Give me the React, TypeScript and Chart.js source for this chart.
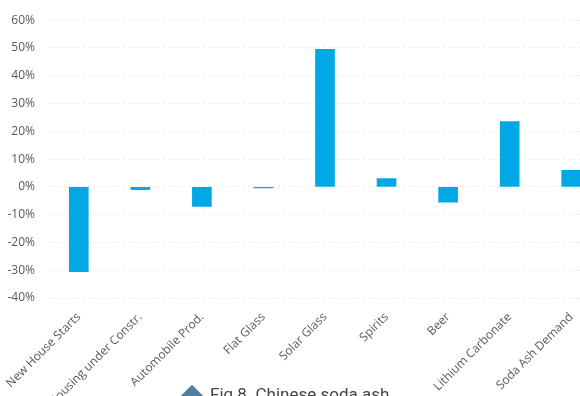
import React, { useEffect, useRef } from "react";
import { Chart, registerables } from "chart.js";

Chart.register(...registerables);

const categories = [
  "New House Starts",
  "Housing under Constr.",
  "Automobile Prod.",
  "Flat Glass",
  "Solar Glass",
  "Spirits",
  "Beer",
  "Lithium Carbonate",
  "Soda Ash Demand",
];
const growthPct = [-30.5, -1, -7, -0.4, 49.5, 3, -5.5, 23.5, 6];
const yTicks = [-40, -30, -20, -10, 0, 10, 20, 30, 40, 50, 60];
const titleText = "Fig 8. Chinese soda ash";

export default function App() {
  const ref = useRef<HTMLCanvasElement | null>(null);
  useEffect(() => {
    document.body.style.margin = "0";
    const ctx = ref.current!;
    const chart = new Chart(ctx, {
      type: "bar",
      data: {
        labels: categories,
        datasets: [
          {
            data: growthPct,
            backgroundColor: "#00A8E6",
            borderWidth: 0,
            barThickness: 19,
          },
        ],
      },
      options: {
        animation: false,
        responsive: false,
        maintainAspectRatio: false,
        layout: { padding: { top: 16, right: 18, left: 0, bottom: 0 } },
        plugins: { legend: { display: false }, tooltip: { enabled: false }, title: { display: false } },
        scales: {
          x: {
            grid: { display: false, drawTicks: false },
            border: { display: false },
            afterFit: (s: any) => {
              s.height = 98;
              s.paddingLeft = 0;
              s.paddingRight = 0;
            },
            ticks: {
              autoSkip: false,
              minRotation: 45,
              maxRotation: 45,
              padding: 12,
              color: "#595959",
              font: { family: "'Open Sans'", size: 12 },
            },
          },
          y: {
            min: yTicks[0],
            max: yTicks[yTicks.length - 1],
            afterFit: (s: any) => {
              s.width = 48;
            },
            afterBuildTicks: (s: any) => {
              s.ticks = yTicks.map((v) => ({ value: v }));
            },
            grid: {
              color: "rgba(0,0,0,0.09)",
              drawTicks: false,
              lineWidth: 1,
              borderDash: [2, 3],
            } as any,
            border: { display: false, dash: [2, 3] },
            ticks: {
              padding: 13,
              color: "#595959",
              font: { family: "'Open Sans'", size: 12 },
              callback: (v: any) => v + "%",
            },
          },
        },
      },
    });
    return () => chart.destroy();
  }, []);

  return (
    <div style={{ position: "fixed", left: 0, top: 0, width: 580, height: 396, overflow: "hidden", background: "#fff" }}>
      <canvas ref={ref} width={620} height={396} style={{ position: "absolute", left: 0, top: 0, width: 620, height: 396 }} />
      <div
        style={{
          position: "absolute",
          left: 184,
          top: 388,
          width: 16,
          height: 16,
          background: "#4f7f9c",
          transform: "rotate(45deg)",
        }}
      />
      <div
        style={{
          position: "absolute",
          left: 210,
          top: 384,
          fontFamily: "Roboto",
          fontSize: 17,
          lineHeight: "20px",
          color: "#444",
          whiteSpace: "nowrap",
        }}
      >
        {titleText}
      </div>
    </div>
  );
}
